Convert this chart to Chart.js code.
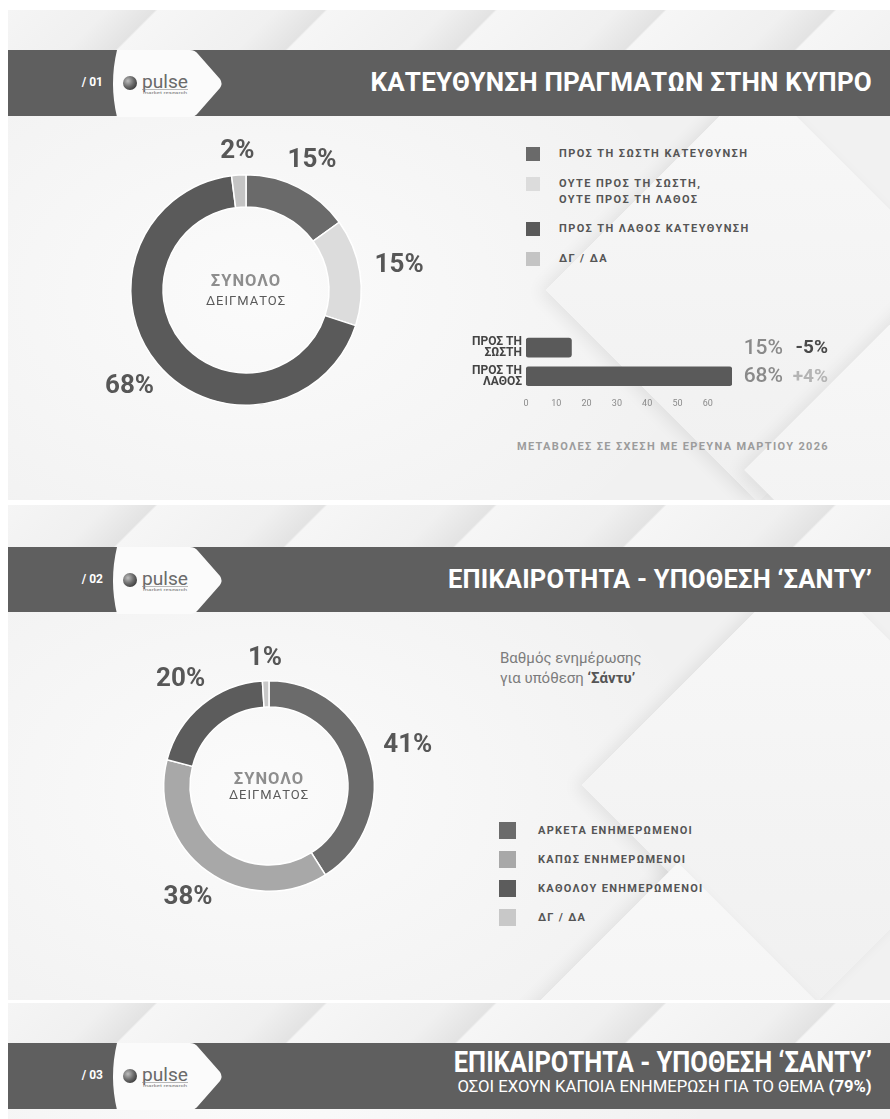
<!DOCTYPE html>
<html lang="el">
<head>
<meta charset="utf-8">
<title>Pulse – Κατεύθυνση πραγμάτων / Υπόθεση Σάντυ</title>
<script src="https://cdn.jsdelivr.net/npm/chart.js@4.4.1/dist/chart.umd.min.js"></script>
<style>
  html, body { margin: 0; padding: 0; }
  body {
    width: 890px; height: 1119px; position: relative; overflow: hidden;
    background: #fff; color: #555;
    font-family: Roboto, "Noto Sans", "DejaVu Sans", sans-serif;
  }
  .panel {
    position: absolute; left: 8px; width: 882px; overflow: hidden;
    background:
      radial-gradient(ellipse 460px 320px at 250px 58%, #fbfbfb 0%, rgba(251,251,251,0) 100%),
      #f1f1f1;
  }
  .strip {
    position: absolute; left: 0; top: 0; width: 100%; height: 44px;
    background: repeating-linear-gradient(135deg, #f5f5f5 0px, #f0f0f0 70px, #e3e3e3 104px, #f6f6f6 106px, #f5f5f5 120px);
  }
  .deco {
    position: absolute; transform: rotate(45deg);
    background: linear-gradient(135deg, #f8f8f8, #f0f0f0);
    box-shadow: -4px 6px 16px rgba(0,0,0,0.07);
  }
  .head { position: absolute; left: 8px; width: 882px; background: #5f5f5f; }
  .num { position: absolute; width: 40px; left: 63px; text-align: right; color: #fff; font-weight: 700; font-size: 12px; }
  .title { position: absolute; right: 18px; color: #fff; font-weight: 700; font-size: 25.5px; letter-spacing: 0.2px; white-space: nowrap; }
  .logo { position: absolute; left: 105px; }
  canvas { position: absolute; }
  .legend { position: absolute; font-weight: 700; font-size: 11px; letter-spacing: 1.4px; color: #555; }
  .legend .row { display: flex; align-items: flex-start; }
  .legend .sq { flex: none; }
  .note { position: absolute; font-weight: 700; font-size: 11px; letter-spacing: 1.35px; color: #9c9c9c; white-space: nowrap; }
  .sub { position: absolute; font-size: 15px; line-height: 20px; color: #7c7c7c; }
  .sub b { color: #555; }
</style>
</head>
<body>

<!-- panel 1 -->
<div class="panel" style="top:10px;height:490px">
  <div class="strip"></div>
  <div class="deco" style="left:600px;top:130px;width:300px;height:300px"></div>
  <div class="deco" style="left:790px;top:330px;width:260px;height:260px"></div>
</div>
<div class="head" style="top:50px;height:66px"></div>
<div class="num" style="top:75px">/ 01</div>
<svg class="logo" style="top:48px" width="125" height="72" viewBox="0 0 125 72"></svg>
<div class="title" style="top:67px;font-size:26px">ΚΑΤΕΥΘΥΝΣΗ ΠΡΑΓΜΑΤΩΝ ΣΤΗΝ ΚΥΠΡΟ</div>

<canvas id="direction-chart" width="372" height="340" style="left:60px;top:120px"></canvas>
<div class="legend" id="direction-legend" style="left:526px;top:146px"></div>
<canvas id="change-chart" width="410" height="100" style="left:440px;top:318px"></canvas>
<div class="note" style="left:517px;top:440px">ΜΕΤΑΒΟΛΕΣ ΣΕ ΣΧΕΣΗ ΜΕ ΕΡΕΥΝΑ ΜΑΡΤΙΟΥ 2026</div>

<!-- panel 2 -->
<div class="panel" style="top:505px;height:495px">
  <div class="strip"></div>
  <div class="deco" style="left:640px;top:120px;width:320px;height:320px"></div>
  <div class="deco" style="left:520px;top:420px;width:300px;height:300px"></div>
</div>
<div class="head" style="top:547px;height:65px"></div>
<div class="num" style="top:572px">/ 02</div>
<svg class="logo" style="top:545px" width="125" height="72" viewBox="0 0 125 72"></svg>
<div class="title" style="top:564px">ΕΠΙΚΑΙΡΟΤΗΤΑ - ΥΠΟΘΕΣΗ ‘ΣΑΝΤΥ’</div>

<div class="sub" style="left:500px;top:648px">Βαθμός ενημέρωσης<br>για υπόθεση <b>‘Σάντυ’</b></div>
<canvas id="aware-chart" width="360" height="320" style="left:89px;top:626px"></canvas>
<div class="legend" id="aware-legend" style="left:499px;top:822px;letter-spacing:1.3px"></div>

<!-- panel 3 -->
<div class="panel" style="top:1003px;height:116px">
  <div class="strip"></div>
</div>
<div class="head" style="top:1043px;height:66px"></div>
<div class="num" style="top:1068px">/ 03</div>
<svg class="logo" style="top:1041px" width="125" height="72" viewBox="0 0 125 72"></svg>
<div class="title" style="top:1044px;font-size:30px;letter-spacing:0;transform:scaleX(0.85);transform-origin:right center">ΕΠΙΚΑΙΡΟΤΗΤΑ - ΥΠΟΘΕΣΗ ‘ΣΑΝΤΥ’</div>
<div class="title" style="top:1076px;font-size:17px;font-weight:400;letter-spacing:0;transform:scaleX(0.98);transform-origin:right center">ΟΣΟΙ ΕΧΟΥΝ ΚΑΠΟΙΑ ΕΝΗΜΕΡΩΣΗ ΓΙΑ ΤΟ ΘΕΜΑ <b>(79%)</b></div>

<script>
// slide 01 – direction of things in Cyprus
const directionLegend = [
  ["ΠΡΟΣ ΤΗ ΣΩΣΤΗ ΚΑΤΕΥΘΥΝΣΗ"],
  ["ΟΥΤΕ ΠΡΟΣ ΤΗ ΣΩΣΤΗ,", "ΟΥΤΕ ΠΡΟΣ ΤΗ ΛΑΘΟΣ"],
  ["ΠΡΟΣ ΤΗ ΛΑΘΟΣ ΚΑΤΕΥΘΥΝΣΗ"],
  ["ΔΓ / ΔΑ"],
];
const directionValues = [15, 15, 68, 2];
const directionColors = ["#6a6a6a", "#dcdcdc", "#5a5a5a", "#c4c4c4"];

// change vs March 2026 survey
const changeLabels = [["ΠΡΟΣ ΤΗ", "ΣΩΣΤΗ"], ["ΠΡΟΣ ΤΗ", "ΛΑΘΟΣ"]];
const changeValues = [15, 68];
const changeDeltas = [-5, 4];
const changeTicks = [0, 10, 20, 30, 40, 50, 60];

// slide 02 – awareness of the 'Sandy' case
const awareLegend = [
  ["ΑΡΚΕΤΑ ΕΝΗΜΕΡΩΜΕΝΟΙ"],
  ["ΚΑΠΩΣ ΕΝΗΜΕΡΩΜΕΝΟΙ"],
  ["ΚΑΘΟΛΟΥ ΕΝΗΜΕΡΩΜΕΝΟΙ"],
  ["ΔΓ / ΔΑ"],
];
const awareValues = [41, 38, 20, 1];
const awareColors = ["#6b6b6b", "#a8a8a8", "#5c5c5c", "#c8c8c8"];

const FONT = "Roboto, 'Noto Sans', sans-serif";

// pulse logo tab on each header
document.querySelectorAll(".logo").forEach((svg) => {
  svg.innerHTML = `
    <defs>
      <radialGradient id="ball" cx="35%" cy="35%" r="70%">
        <stop offset="0" stop-color="#bdbdbd"/><stop offset="0.6" stop-color="#6a6a6a"/><stop offset="1" stop-color="#3f3f3f"/>
      </radialGradient>
    </defs>
    <path d="M 12 2 H 85 Q 90 2 93 6 L 115 31 Q 118 35.5 115 40 L 93 65 Q 90 69 85 69 H 12 Q 4 35.5 12 2 Z" fill="#fbfbfb"/>
    <circle cx="25" cy="35" r="7" fill="url(#ball)"/>
    <text x="37" y="40" font-family="Roboto, sans-serif" font-size="18" fill="#6a6a6a" textLength="46" lengthAdjust="spacingAndGlyphs">pulse</text>
    <line x1="37" y1="41.5" x2="83" y2="41.5" stroke="#8a8a8a" stroke-width="0.6"/>
    <text x="38" y="45.5" font-family="Roboto, sans-serif" font-size="3.6" fill="#777" textLength="44" lengthAdjust="spacingAndGlyphs">market research</text>
  `;
});

function renderLegend(id, rows, colors, opts) {
  document.getElementById(id).innerHTML = rows.map((lines, i) => `
    <div class="row" style="margin-bottom:${opts.gap}px">
      <span class="sq" style="width:${opts.size}px;height:${opts.size}px;margin-top:${(opts.line - opts.size) / 2}px;background:${colors[i]};margin-right:${opts.textGap}px"></span>
      <span style="line-height:${opts.line}px">${lines.join("<br>")}</span>
    </div>
  `).join("");
}

renderLegend("direction-legend", directionLegend, directionColors, { size: 14, line: 16, gap: 13.5, textGap: 19 });
renderLegend("aware-legend", awareLegend, awareColors, { size: 17, line: 17, gap: 12, textGap: 22 });

function createOuterLabelPlugin() {
  return {
    id: "outer-labels",
    afterDatasetsDraw(chart) {
      const { ctx } = chart;
      const dataset = chart.data.datasets[0];
      ctx.save();
      ctx.font = `bold 26px ${FONT}`;
      ctx.fillStyle = "#575757";
      ctx.textAlign = "center";
      ctx.textBaseline = "middle";
      chart.getDatasetMeta(0).data.forEach((arc, index) => {
        const { x, y, startAngle, endAngle, outerRadius } = arc.getProps(["x", "y", "startAngle", "endAngle", "outerRadius"], true);
        const mid = (startAngle + endAngle) / 2;
        const dist = outerRadius + 22 + 18 * Math.abs(Math.cos(mid));
        ctx.fillText(`${dataset.data[index]}%`, x + Math.cos(mid) * dist, y + Math.sin(mid) * dist);
      });
      ctx.restore();
    },
  };
}

function createCenterTextPlugin(topOffset, bottomOffset) {
  return {
    id: "center-text",
    afterDraw(chart) {
      const arc = chart.getDatasetMeta(0).data[0];
      if (!arc) return;
      const { ctx } = chart;
      ctx.save();
      ctx.textAlign = "center";
      ctx.textBaseline = "middle";
      ctx.letterSpacing = "1px";
      ctx.font = `bold 16.5px ${FONT}`;
      ctx.fillStyle = "#8e8e8e";
      ctx.fillText("ΣΥΝΟΛΟ", arc.x, arc.y + topOffset);
      ctx.font = `13px ${FONT}`;
      ctx.fillStyle = "#5a5a5a";
      ctx.fillText("ΔΕΙΓΜΑΤΟΣ", arc.x, arc.y + bottomOffset);
      ctx.restore();
    },
  };
}

function doughnutConfig(labels, values, colors, cutout, centerOffsets) {
  return {
    type: "doughnut",
    data: {
      labels: labels.map((lines) => lines.join(" ")),
      datasets: [{ data: values, backgroundColor: colors, borderColor: "#ffffff", borderWidth: 1.5 }],
    },
    options: {
      responsive: false,
      animation: false,
      events: [],
      cutout,
      layout: { padding: 54 },
      plugins: { legend: { display: false }, tooltip: { enabled: false } },
    },
    plugins: [createOuterLabelPlugin(), createCenterTextPlugin(...centerOffsets)],
  };
}

new Chart(document.getElementById("direction-chart"),
  doughnutConfig(directionLegend, directionValues, directionColors, "72%", [-8, 12]));
new Chart(document.getElementById("aware-chart"),
  doughnutConfig(awareLegend, awareValues, awareColors, "75%", [-6, 10]));

function createChangeLabelPlugin() {
  return {
    id: "change-labels",
    afterDatasetsDraw(chart) {
      const { ctx, chartArea } = chart;
      const meta = chart.getDatasetMeta(0);
      ctx.save();
      ctx.textAlign = "right";
      ctx.textBaseline = "middle";
      meta.data.forEach((bar, index) => {
        const delta = changeDeltas[index];
        ctx.font = `500 21px ${FONT}`;
        ctx.fillStyle = "#8a8a8a";
        ctx.fillText(`${changeValues[index]}%`, chartArea.right + 51, bar.y + 1);
        ctx.font = `bold 19px ${FONT}`;
        ctx.fillStyle = delta < 0 ? "#4a4a4a" : "#b4b4b4";
        ctx.fillText(`${delta > 0 ? "+" : ""}${delta}%`, chartArea.right + 96, bar.y + 1);
      });
      ctx.restore();
    },
  };
}

new Chart(document.getElementById("change-chart"), {
  type: "bar",
  data: {
    labels: changeLabels,
    datasets: [{ data: changeValues, backgroundColor: "#5a5a5a", barThickness: 19, borderRadius: 3, borderSkipped: false }],
  },
  options: {
    responsive: false,
    animation: false,
    events: [],
    indexAxis: "y",
    layout: { padding: { top: 8.5, right: 118, left: 0, bottom: 0 } },
    plugins: { legend: { display: false }, tooltip: { enabled: false } },
    scales: {
      x: {
        min: 0,
        max: Math.max(...changeValues),
        grid: { display: false, drawTicks: false },
        border: { display: false },
        afterFit: (scale) => { scale.height = 27.5; },
        afterBuildTicks: (scale) => { scale.ticks = changeTicks.map((value) => ({ value })); },
        ticks: { padding: 8, color: "#8a8a8a", font: { size: 9, family: FONT } },
      },
      y: {
        grid: { display: false, drawTicks: false },
        border: { display: false },
        afterFit: (scale) => { scale.width = 86; },
        ticks: { padding: 4, color: "#444", font: { size: 12, weight: "bold", family: FONT, lineHeight: 0.95 } },
      },
    },
  },
  plugins: [createChangeLabelPlugin()],
});
</script>
</body>
</html>
